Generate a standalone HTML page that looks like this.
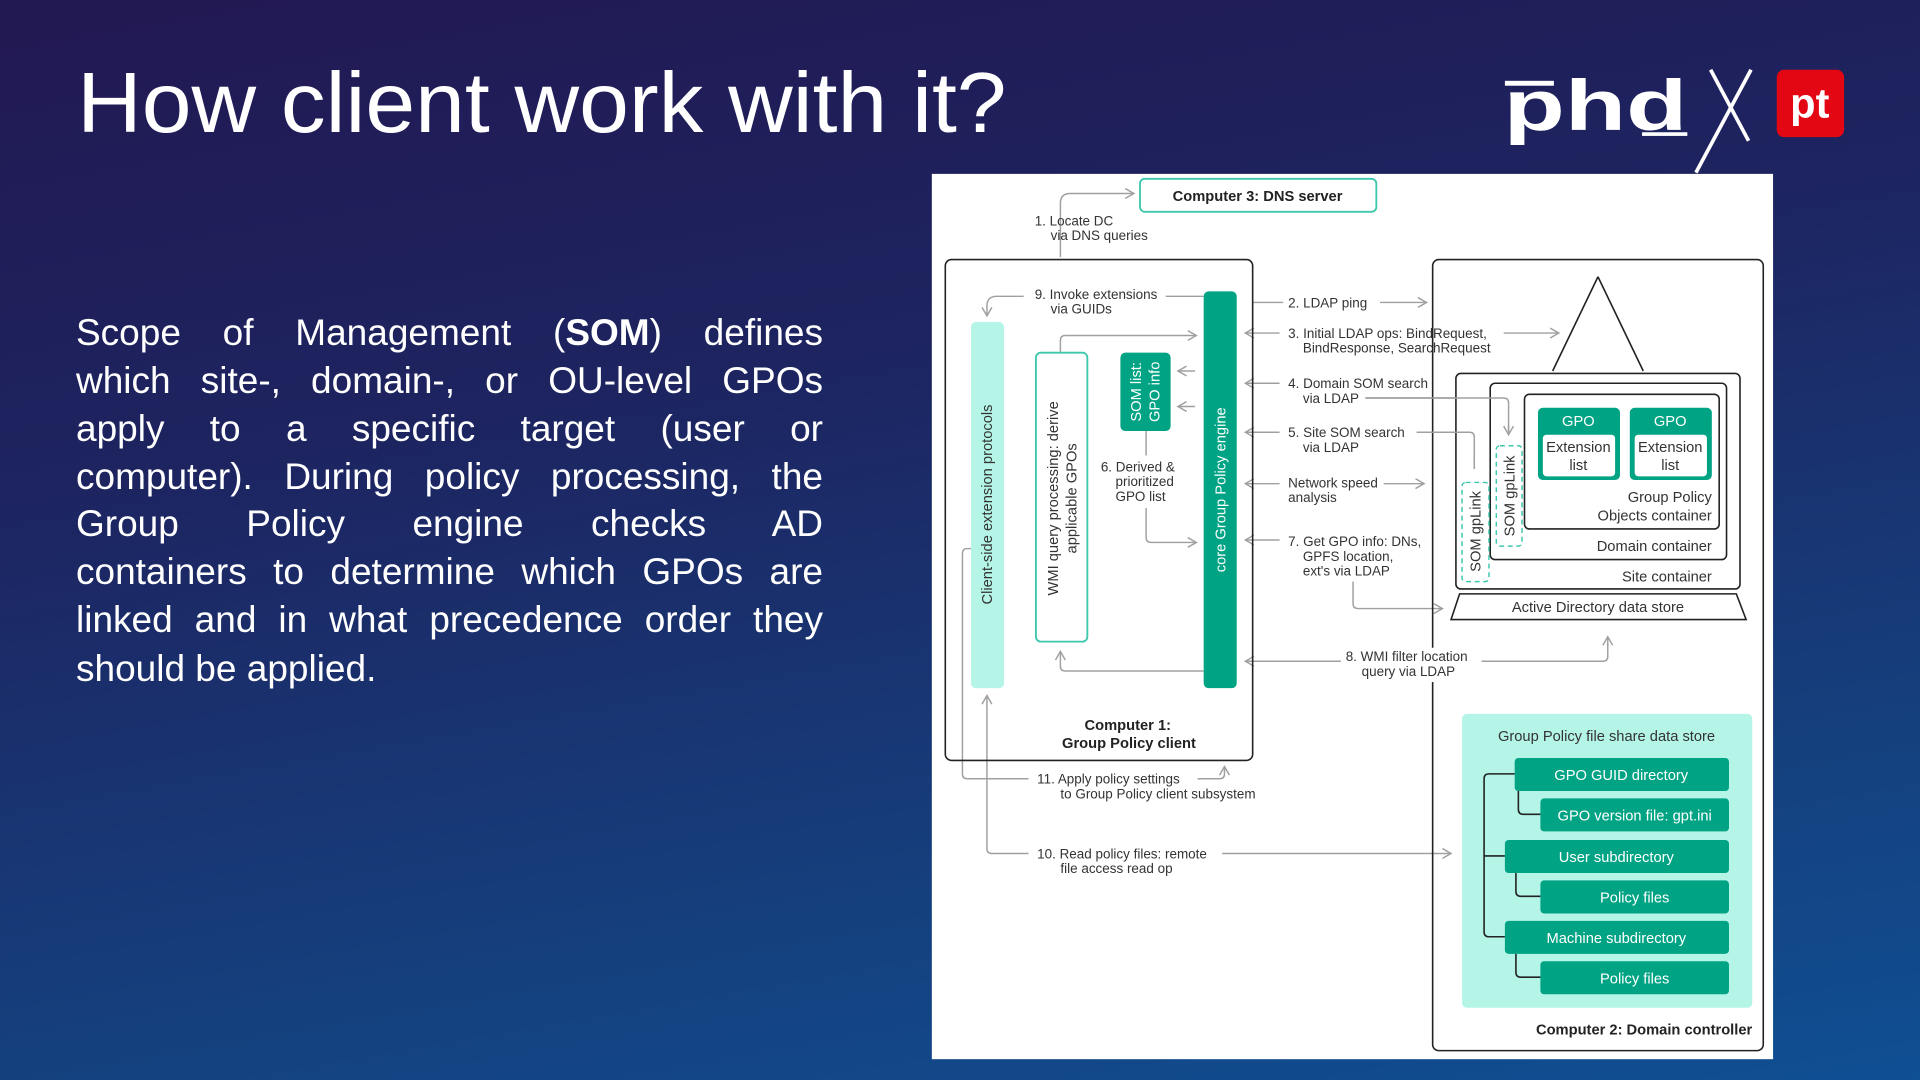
<!DOCTYPE html>
<html><head><meta charset="utf-8">
<style>
html,body{margin:0;padding:0;}
body{width:1920px;height:1080px;overflow:hidden;position:relative;background:linear-gradient(170deg,#221852 0%,#1d2460 35%,#15407e 75%,#0f4f93 100%);font-family:"Liberation Sans",sans-serif;}
svg{position:absolute;left:0;top:0;}
.p{position:absolute;left:76px;width:747px;color:#fff;font-size:37px;line-height:48px;text-align:justify;text-align-last:justify;white-space:nowrap;}
.p.last{text-align-last:left;}
</style></head><body>
<div class="p" style="top:309px">Scope of Management (<b>SOM</b>) defines</div>
<div class="p" style="top:357px">which site-, domain-, or OU-level GPOs</div>
<div class="p" style="top:405px">apply to a specific target (user or</div>
<div class="p" style="top:453px">computer). During policy processing, the</div>
<div class="p" style="top:500px">Group Policy engine checks AD</div>
<div class="p" style="top:548px">containers to determine which GPOs are</div>
<div class="p" style="top:596px">linked and in what precedence order they</div>
<div class="p last" style="top:645px">should be applied.</div>
<svg width="1920" height="1080" viewBox="0 0 1568 882" font-family="Liberation Sans, sans-serif">
<defs>
<marker id="a" markerWidth="10" markerHeight="10" refX="8" refY="5" orient="auto" markerUnits="userSpaceOnUse"><path d="M1,1 L8,5 L1,9" fill="none" stroke="#a0a0a0" stroke-width="1.2"/></marker>
</defs>
<text x="63" y="108" fill="#fff" font-size="70" font-weight="300" textLength="759" lengthAdjust="spacingAndGlyphs">How client work with it?</text>
<!-- logo -->
<text x="1228" y="106" fill="#fff" font-size="58" font-weight="bold" textLength="150" lengthAdjust="spacingAndGlyphs">phd</text>
<rect x="1229" y="66" width="40" height="4" fill="#fff"/>
<rect x="1341" y="108" width="37" height="3" fill="#fff"/>
<line x1="1385" y1="141" x2="1430" y2="57" stroke="#fff" stroke-width="3"/>
<line x1="1397" y1="57" x2="1428" y2="115" stroke="#fff" stroke-width="3"/>
<rect x="1451" y="57" width="55" height="55" rx="6" fill="#e30613"/>
<text x="1478" y="96" fill="#fff" font-size="34" font-weight="bold" text-anchor="middle">pt</text>
<!-- diagram -->
<rect x="761" y="142" width="687" height="723" fill="#fff"/>
<g fill="#333" font-size="11">
<rect x="931" y="146" width="193" height="27" rx="4" fill="#fff" stroke="#3cc8ad" stroke-width="1.5"/>
<text x="1027" y="164" text-anchor="middle" font-weight="bold" font-size="12" fill="#222">Computer 3: DNS server</text>
<g fill="none" stroke="#a0a0a0" stroke-width="1.2">
<path d="M866,210 V166 Q866,158 874,158 H926" marker-end="url(#a)"/>
<path d="M983,242 H952 M836,242 H814 Q806,242 806,250 V258" marker-end="url(#a)"/>
<path d="M866,288 V278 Q866,274 870,274 H977" marker-end="url(#a)"/>
<path d="M976,303 H962" marker-end="url(#a)"/>
<path d="M976,332 H962" marker-end="url(#a)"/>
<path d="M936,352 V372 M936,415 V439 Q936,443 940,443 H977" marker-end="url(#a)"/>
<path d="M983,548 H870 Q866,548 866,544 V532" marker-end="url(#a)"/>
<path d="M1023,247 H1048 M1127,247 H1165" marker-end="url(#a)"/>
<path d="M1045,272 H1017" marker-end="url(#a)"/>
<path d="M1228,272 H1273" marker-end="url(#a)"/>
<path d="M1045,313 H1017" marker-end="url(#a)"/>
<path d="M1115,325 H1228 Q1232,325 1232,329 V355" marker-end="url(#a)"/>
<path d="M1045,353 H1017" marker-end="url(#a)"/>
<path d="M1157,353 H1200 Q1204,353 1204,357 V383" marker-end="url(#a)"/>
<path d="M1045,395 H1017" marker-end="url(#a)"/>
<path d="M1130,395 H1163" marker-end="url(#a)"/>
<path d="M1045,441 H1017" marker-end="url(#a)"/>
<path d="M1105,475 V493 Q1105,497 1109,497 H1178" marker-end="url(#a)"/>
<path d="M1095,540 H1017" marker-end="url(#a)"/>
<path d="M793,448 H790 Q786,448 786,452 V632 Q786,636 790,636 H840 M978,636 H996 Q1000,636 1000,632 V626" marker-end="url(#a)"/>
<path d="M840,697 H810 Q806,697 806,693 V568" marker-end="url(#a)"/>
<path d="M998,697 H1185" marker-end="url(#a)"/>
</g>
<rect x="772" y="212" width="251" height="409" rx="5" fill="none" stroke="#222" stroke-width="1.3"/>
<text x="921" y="596" text-anchor="middle" font-weight="bold" font-size="12" fill="#222">Computer 1:</text>
<text x="922" y="611" text-anchor="middle" font-weight="bold" font-size="12" fill="#222">Group Policy client</text>
<rect x="793" y="263" width="27" height="299" rx="4" fill="#b4f5e8"/>
<text transform="translate(810,412) rotate(-90)" text-anchor="middle" font-size="12">Client-side extension protocols</text>
<rect x="846" y="288" width="42" height="236" rx="4" fill="#fff" stroke="#3cc8ad" stroke-width="1.5"/>
<text transform="translate(864,407) rotate(-90)" text-anchor="middle" font-size="12">WMI query processing: derive</text>
<text transform="translate(879,407) rotate(-90)" text-anchor="middle" font-size="12">applicable GPOs</text>
<rect x="915" y="288" width="41" height="64" rx="4" fill="#00a383"/>
<text transform="translate(932,320) rotate(-90)" text-anchor="middle" font-size="12" fill="#fff">SOM list:</text>
<text transform="translate(947,320) rotate(-90)" text-anchor="middle" font-size="12" fill="#fff">GPO info</text>
<rect x="983" y="238" width="27" height="324" rx="4" fill="#00a383"/>
<text transform="translate(1001,400) rotate(-90)" text-anchor="middle" font-size="12" fill="#fff">core Group Policy engine</text>
<text x="845" y="184">1. Locate DC</text><text x="858" y="196">via DNS queries</text>
<text x="845" y="244">9. Invoke extensions</text><text x="858" y="256">via GUIDs</text>
<text x="899" y="385">6. Derived &amp;</text><text x="911" y="397">prioritized</text><text x="911" y="409">GPO list</text>
<text x="1052" y="251">2. LDAP ping</text>
<text x="1052" y="276">3. Initial LDAP ops: BindRequest,</text><text x="1064" y="288">BindResponse, SearchRequest</text>
<text x="1052" y="317">4. Domain SOM search</text><text x="1064" y="329">via LDAP</text>
<text x="1052" y="357">5. Site SOM search</text><text x="1064" y="369">via LDAP</text>
<text x="1052" y="398">Network speed</text><text x="1052" y="410">analysis</text>
<text x="1052" y="446">7. Get GPO info: DNs,</text><text x="1064" y="458">GPFS location,</text><text x="1064" y="470">ext's via LDAP</text>
<text x="847" y="640">11. Apply policy settings</text><text x="866" y="652">to Group Policy client subsystem</text>
<text x="847" y="701">10. Read policy files: remote</text><text x="866" y="713">file access read op</text>
<!-- DC -->
<rect x="1170" y="212" width="270" height="646" rx="5" fill="none" stroke="#222" stroke-width="1.3"/>
<rect x="1097" y="529" width="110" height="28" fill="#fff"/>
<text x="1099" y="540">8. WMI filter location</text><text x="1112" y="552">query via LDAP</text>
<path d="M1210,540 H1309 Q1313,540 1313,536 V520" fill="none" stroke="#a0a0a0" stroke-width="1.2" marker-end="url(#a)"/>
<path d="M1305,226 L1268,303 M1305,226 L1342,303" fill="none" stroke="#222" stroke-width="1.3"/>
<rect x="1189" y="305" width="232" height="176" rx="4" fill="#fff" stroke="#222" stroke-width="1.3"/>
<rect x="1217" y="313" width="193" height="144" rx="4" fill="#fff" stroke="#222" stroke-width="1.3"/>
<rect x="1245" y="322" width="159" height="110" rx="4" fill="#fff" stroke="#222" stroke-width="1.3"/>
<path d="M1157,353 H1200 Q1204,353 1204,357 V383 M1115,325 H1228 Q1232,325 1232,329 V355" fill="none" stroke="#a0a0a0" stroke-width="1.2"/>
<path d="M1204,375 V383 M1232,347 V355" fill="none" stroke="#a0a0a0" stroke-width="1.2" marker-end="url(#a)"/>
<rect x="1256" y="333" width="67" height="59" rx="4" fill="#00a383"/>
<rect x="1260" y="355" width="59" height="34" rx="3" fill="#fff"/>
<rect x="1331" y="333" width="67" height="59" rx="4" fill="#00a383"/>
<rect x="1335" y="355" width="59" height="34" rx="3" fill="#fff"/>
<g font-size="12" text-anchor="middle">
<text x="1289" y="348" fill="#fff">GPO</text><text x="1364" y="348" fill="#fff">GPO</text>
<text x="1289" y="369">Extension</text><text x="1289" y="384">list</text>
<text x="1364" y="369">Extension</text><text x="1364" y="384">list</text>
</g>
<g font-size="12" text-anchor="end">
<text x="1398" y="410">Group Policy</text><text x="1398" y="425">Objects container</text>
<text x="1398" y="450">Domain container</text><text x="1398" y="475">Site container</text>
</g>
<rect x="1194" y="394" width="22" height="81" rx="3" fill="#fff" stroke="#3cc8ad" stroke-width="1.2" stroke-dasharray="4,3"/>
<rect x="1222" y="364" width="21" height="82" rx="3" fill="#fff" stroke="#3cc8ad" stroke-width="1.2" stroke-dasharray="4,3"/>
<text transform="translate(1209,434) rotate(-90)" text-anchor="middle" font-size="12">SOM gpLink</text>
<text transform="translate(1237,405) rotate(-90)" text-anchor="middle" font-size="12">SOM gpLink</text>
<path d="M1192,485 H1418 L1426,506 H1185 Z" fill="#fff" stroke="#222" stroke-width="1.3"/>
<text x="1305" y="500" text-anchor="middle" font-size="12">Active Directory data store</text>
<rect x="1194" y="583" width="237" height="240" rx="4" fill="#b4f5e8"/>
<text x="1312" y="605" text-anchor="middle" font-size="12">Group Policy file share data store</text>
<path d="M1237,632 H1216 Q1212,632 1212,636 V761 Q1212,765 1216,765 H1229 M1212,699 H1229 M1240,646 V661 Q1240,665 1244,665 H1258 M1238,713 V728 Q1238,732 1242,732 H1258 M1238,779 V794 Q1238,798 1242,798 H1258" fill="none" stroke="#222" stroke-width="1.3"/>
<g fill="#00a383">
<rect x="1237" y="619" width="175" height="27" rx="3"/>
<rect x="1258" y="652" width="154" height="27" rx="3"/>
<rect x="1229" y="686" width="183" height="27" rx="3"/>
<rect x="1258" y="719" width="154" height="27" rx="3"/>
<rect x="1229" y="752" width="183" height="27" rx="3"/>
<rect x="1258" y="785" width="154" height="27" rx="3"/>
</g>
<g fill="#fff" font-size="12" text-anchor="middle">
<text x="1324" y="637">GPO GUID directory</text>
<text x="1335" y="670">GPO version file: gpt.ini</text>
<text x="1320" y="704">User subdirectory</text>
<text x="1335" y="737">Policy files</text>
<text x="1320" y="770">Machine subdirectory</text>
<text x="1335" y="803">Policy files</text>
</g>
<text x="1431" y="845" text-anchor="end" font-weight="bold" font-size="12" fill="#222">Computer 2: Domain controller</text>
</g>
</svg>
</body></html>
